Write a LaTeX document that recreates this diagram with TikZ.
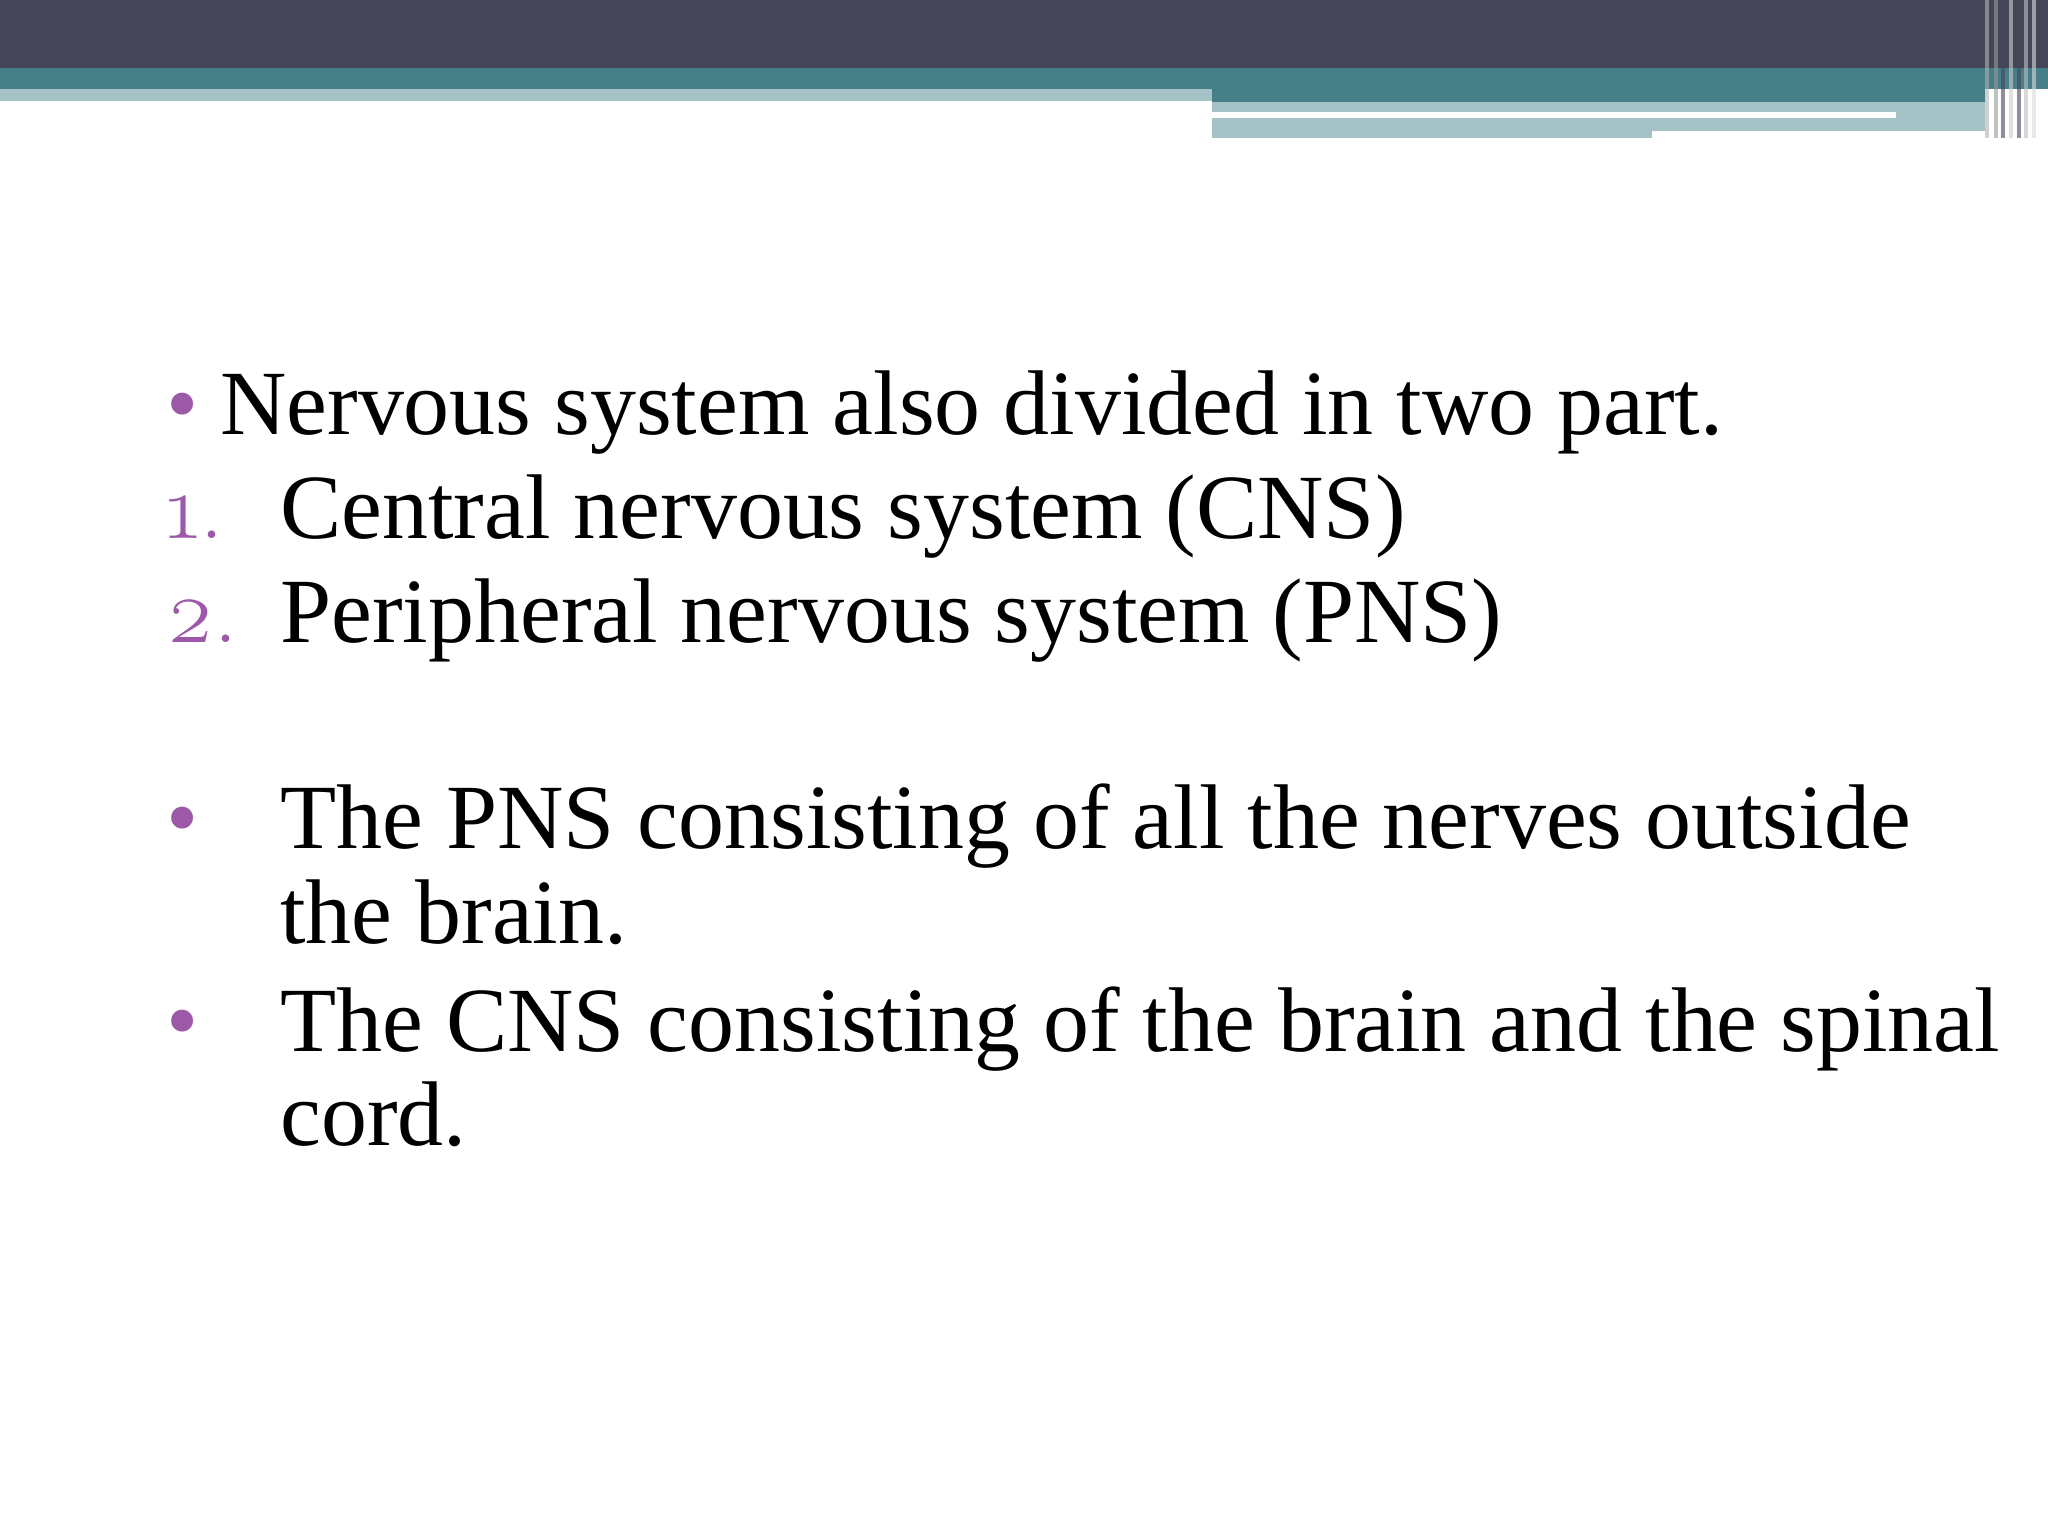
\documentclass[tikz,border=0pt]{standalone}
\usepackage{fontspec}
\setmainfont{Liberation Serif}
\newfontfamily\numfont{Latin Modern Roman}
\definecolor{dark}{HTML}{454558}
\definecolor{teal1}{HTML}{467F87}
\definecolor{lt}{HTML}{A5C2C6}
\definecolor{purp}{HTML}{9B59A8}
\tikzset{txt/.style={anchor=base west,inner sep=0pt,font=\fontsize{20}{25}\selectfont},
 bul/.style={anchor=base west,inner sep=0pt,text=purp,font=\fontsize{20}{25}\selectfont}}
\begin{document}
\begin{tikzpicture}[x=0.01cm,y=-0.01cm]
\useasboundingbox (0,0) rectangle (1568,1176);
\fill[white] (0,0) rectangle (1568,1176);
\fill[dark] (0,0) rectangle (1568,52);
\fill[lt] (0,68) rectangle (928,77);
\fill[lt] (928,78) rectangle (1265,106);
\fill[lt] (1265,78) rectangle (1520,100);
\fill[teal1] (0,52) rectangle (1568,68);
\fill[teal1] (928,68) rectangle (1520,78);
\fill[white] (928,86) rectangle (1452,90);
\foreach \x/\c in {1520/gray!60,1527/gray!80,1532/dark,1538/gray!40,1544/dark,1550/gray!50,1556/gray!30}
  \fill[\c,opacity=0.6] (\x,0) rectangle (\x+3,106);
\node[bul] (b1) at (127,333) {\textbullet};
\node[txt] (t1) at (168,333) {Nervous system also divided in two part.};
\node[bul] (n1) at (127,412) {\numfont\oldstylenums{1}.};
\node[txt] (t2) at (214,412) {Central nervous system (CNS)};
\node[bul] (n2) at (127,492) {\numfont\oldstylenums{2}.};
\node[txt] (t3) at (214,492) {Peripheral nervous system (PNS)};
\node[bul] (b2) at (127,650) {\textbullet};
\node[txt] (t4) at (214,650) {The PNS consisting of all the nerves outside};
\node[txt] (t5) at (214,722) {the brain.};
\node[bul] (b3) at (127,805) {\textbullet};
\node[txt] (t6) at (214,805) {The CNS consisting of the brain and the spinal};
\node[txt] (t7) at (214,877) {cord.};
\end{tikzpicture}
\end{document}
